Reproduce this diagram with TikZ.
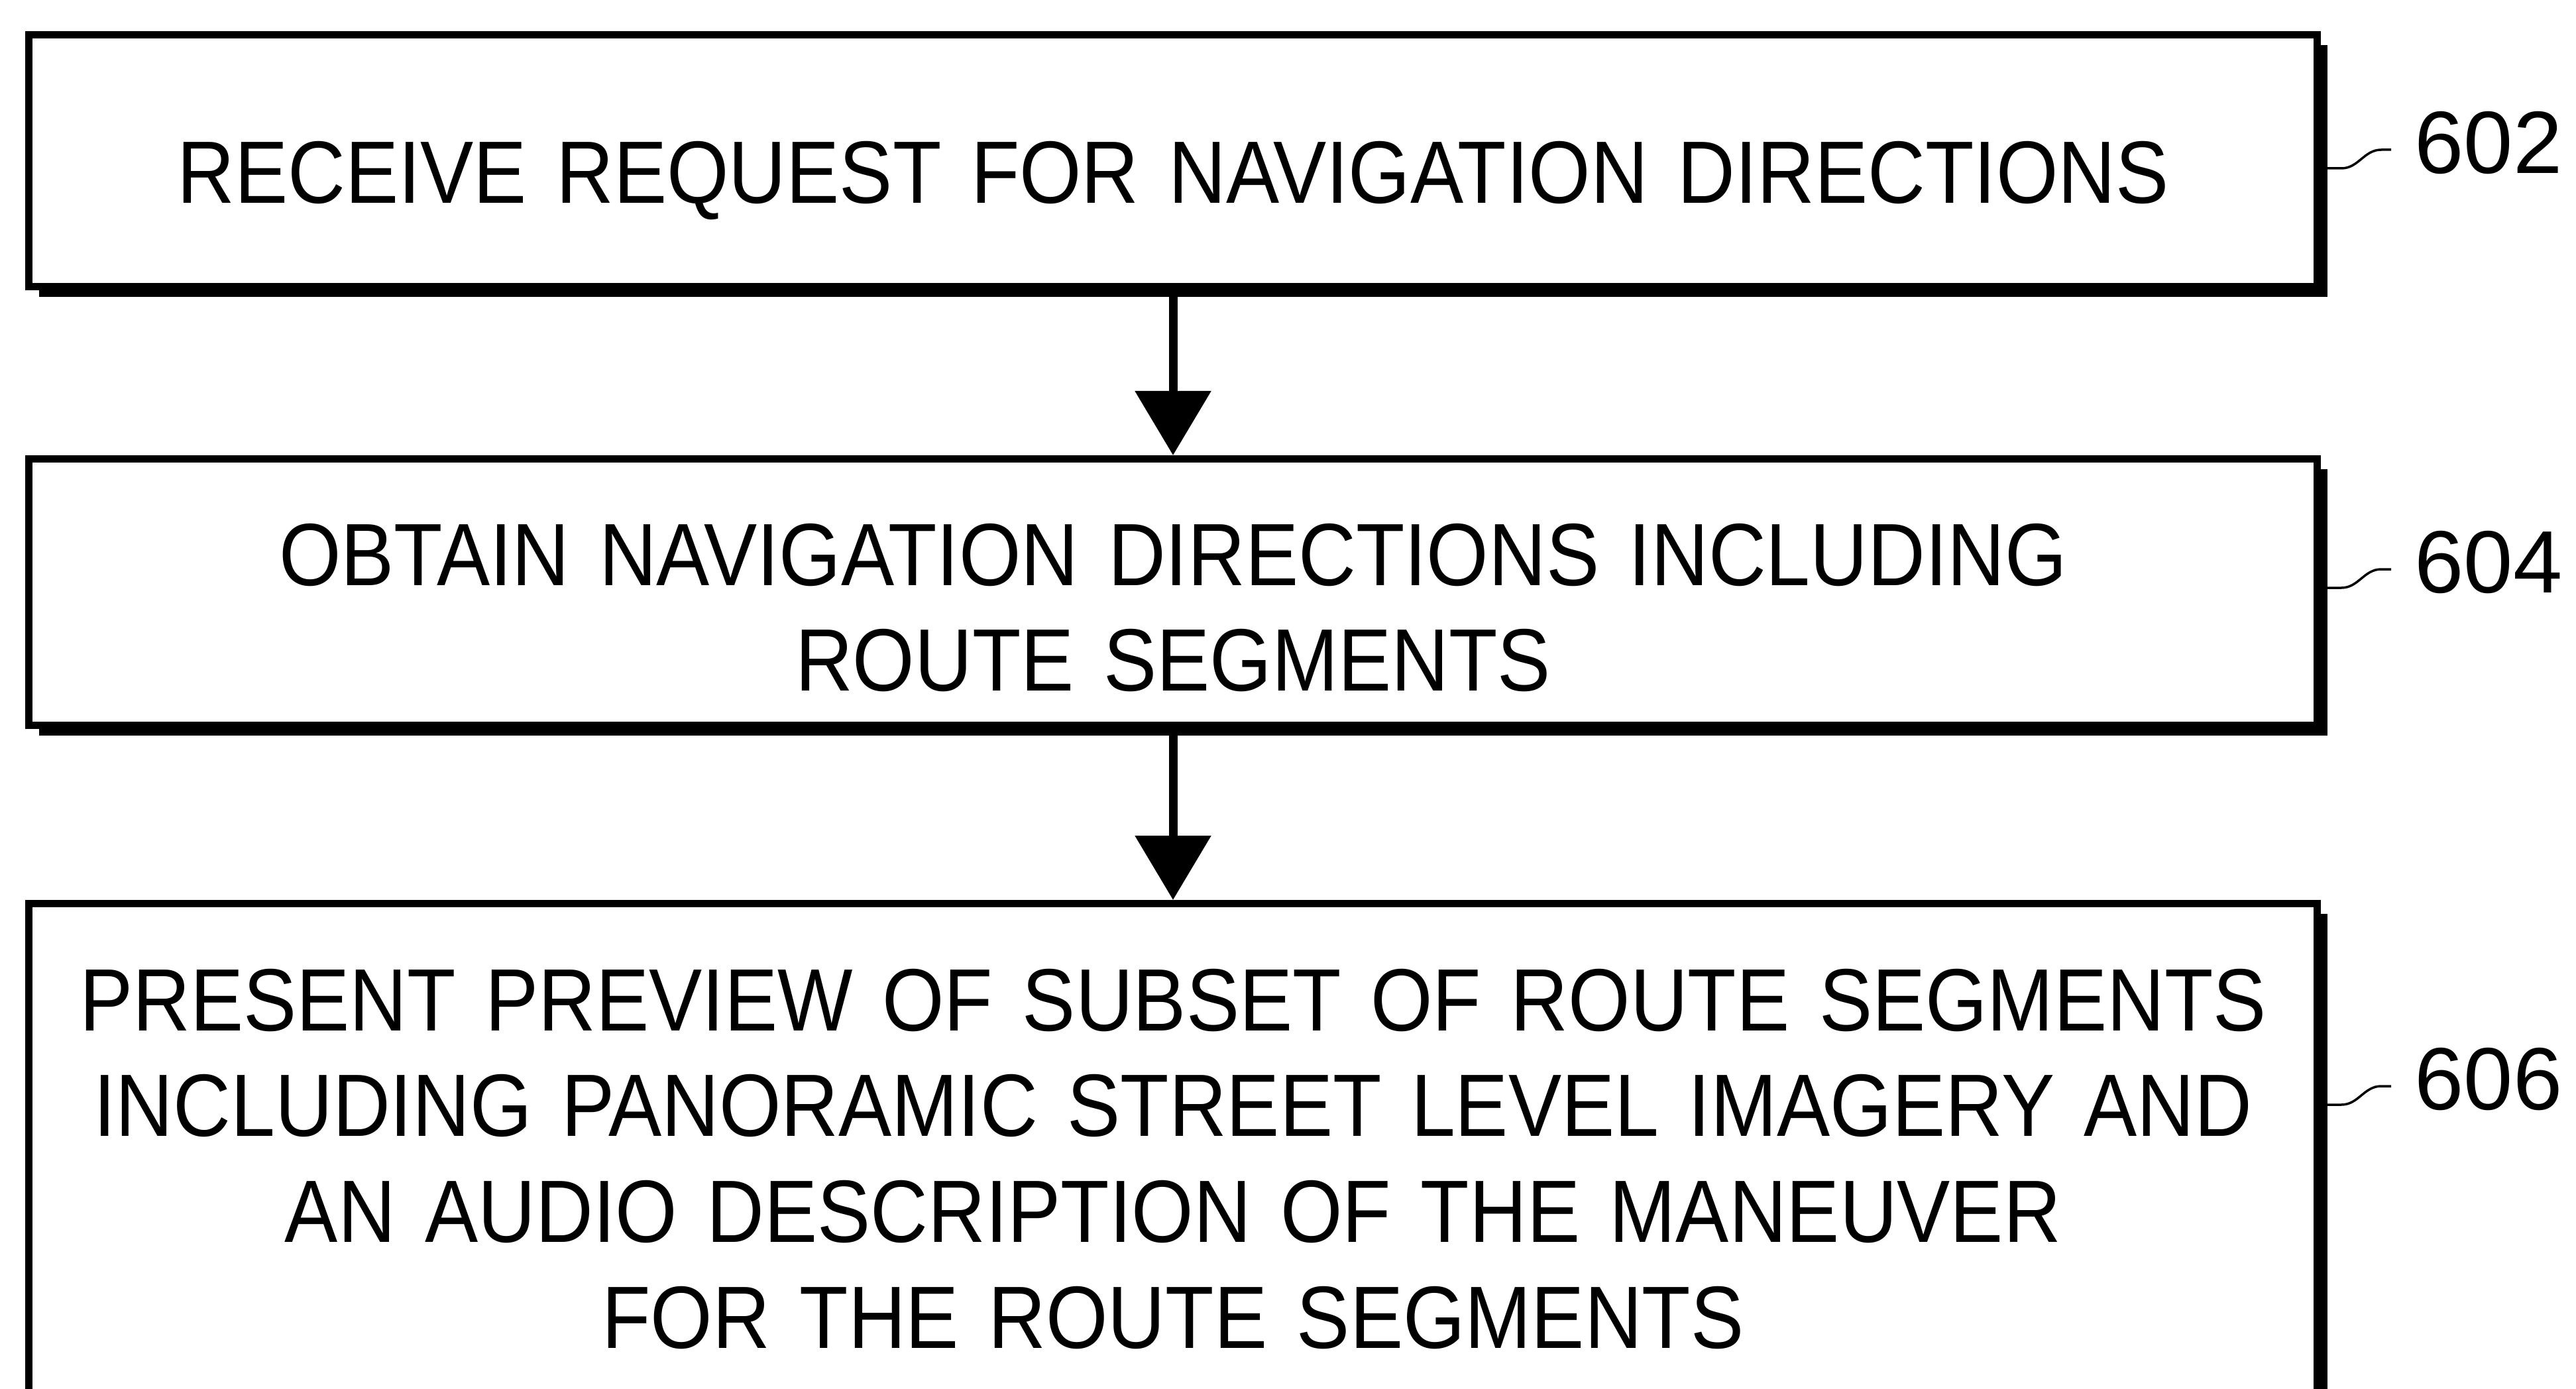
\documentclass[tikz,border=0pt]{standalone}
\usepackage{fontspec}
\setmainfont{Liberation Sans}[FakeStretch=0.9]
\newfontfamily\numfont{Liberation Sans}
\usetikzlibrary{arrows.meta,shadows,calc}

\newcommand\boxfont{\fontsize{38}{45.5}\selectfont\fontdimen2\font=0.23em\relax}

\begin{document}
\begin{tikzpicture}[
    block/.style={draw,line width=0.11cm,fill=white,minimum width=34.53cm,
      text width=34cm,align=center,inner sep=0pt,font=\boxfont,
      drop shadow={shadow xshift=0.155cm,shadow yshift=-0.155cm,fill=black,opacity=1}},
    flow/.style={line width=0.13cm,-{Triangle[width=1.12cm,length=0.97cm]}},
    ref/.style={anchor=west,inner sep=0pt,font=\numfont\fontsize{38}{45.5}\selectfont},
    leader/.style={line width=0.035cm}]

\useasboundingbox (0,0) rectangle (38.87,-20.96);

\node[block,minimum height=3.80cm,text height=1.29cm,text depth=0cm]
  (receive) at (17.70,-2.425)
  {RECEIVE REQUEST FOR NAVIGATION DIRECTIONS};
\node[block,minimum height=4.02cm,text height=0cm,text depth=0.21cm]
  (obtain) at (17.70,-8.935)
  {OBTAIN NAVIGATION DIRECTIONS INCLUDING\\ROUTE SEGMENTS};
\node[block,minimum height=7.865cm,text height=0cm,text depth=4.035cm]
  (present) at (17.70,-17.5675)
  {PRESENT PREVIEW OF SUBSET OF ROUTE SEGMENTS\\
   INCLUDING PANORAMIC STREET LEVEL IMAGERY AND\\
   AN AUDIO DESCRIPTION OF THE MANEUVER\\
   FOR THE ROUTE SEGMENTS};

% reference numerals
\node[ref] (r602) at (36.43,-2.16) {602};
\node[ref] (r604) at (36.43,-8.49) {604};
\node[ref] (r606) at (36.43,-16.29) {606};

% flow arrows
\draw[flow] (receive) -- (obtain);
\draw[flow] (obtain) -- (present);

% leader lines
\draw[leader] ($(receive.east |- r602.west)+(0.1,-0.38)$) -- ++(0.21,0)
  to[out=0,in=180] ++(0.6,0.28) -- ($(r602.west)+(-0.35,-0.1)$);
\draw[leader] ($(obtain.east |- r604.west)+(0.1,-0.38)$) -- ++(0.21,0)
  to[out=0,in=180] ++(0.6,0.28) -- ($(r604.west)+(-0.35,-0.1)$);
\draw[leader] ($(present.east |- r606.west)+(0.1,-0.38)$) -- ++(0.21,0)
  to[out=0,in=180] ++(0.6,0.28) -- ($(r606.west)+(-0.35,-0.1)$);

\end{tikzpicture}
\end{document}
